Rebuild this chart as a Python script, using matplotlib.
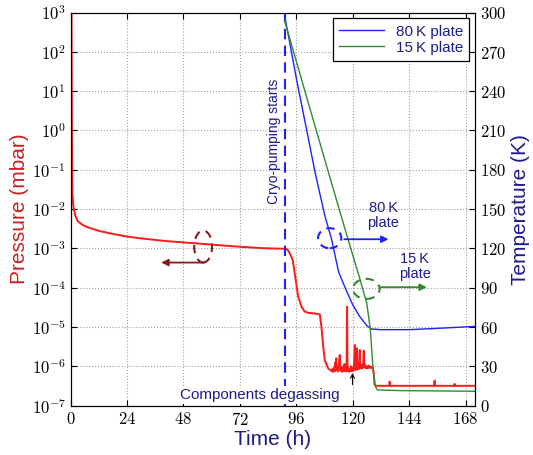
import math
import matplotlib
matplotlib.use('Agg')
import matplotlib.pyplot as plt
from matplotlib.patches import Ellipse
from matplotlib.ticker import FixedLocator, FuncFormatter, LogLocator

plt.rcParams['mathtext.fontset'] = 'cm'
plt.rcParams['font.family'] = ['Liberation Sans', 'DejaVu Sans']

# Chamber pressure (mbar) vs time (h)
t_pres = [0.4, 0.6, 0.7, 0.8, 1.2, 2.0, 3.0, 5.0, 7.0, 12, 17, 24, 30, 40, 48, 60, 72, 84,
          91.5, 92.5, 93.5, 94.5, 95.5, 96.8, 98.2, 99.5, 101, 104, 106, 106.7, 107.5,
          108.1, 109.5, 110.5,
          111.0, 111.3, 111.6, 111.9, 112.2, 112.5, 112.7, 113.0, 113.2, 113.5, 113.8,
          114.1, 114.5, 114.7, 115.0, 115.3, 115.6, 115.9, 116.2, 116.5, 116.8, 117.1,
          117.4, 117.6, 117.8, 118.1, 118.4, 118.7, 119.0, 119.3, 119.6, 119.9, 120.2,
          120.6, 120.9, 121.1, 121.5, 121.8, 122.0, 122.4, 122.7, 123.0, 123.2, 123.5,
          123.8, 124.1, 124.4, 124.7, 124.9, 125.2, 125.5, 125.9, 126.3, 126.7, 127.1,
          127.5, 127.9, 128.3, 128.6, 129.0, 129.3, 130.0,
          135.5, 135.7, 135.9, 154.6, 154.8, 155.0, 163.1, 163.3, 163.5, 172]
pressure = [1e3, 1e0, 1e-1, 2.5e-2, 1.2e-2, 7e-3, 5.0e-3, 4.0e-3, 3.5e-3, 2.8e-3, 2.4e-3,
            2.0e-3, 1.8e-3, 1.55e-3, 1.42e-3, 1.25e-3, 1.1e-3, 1.0e-3,
            9.8e-4, 9.0e-4, 7e-4, 5e-4, 2e-4, 6e-5, 3.3e-5, 2.5e-5, 2.3e-5, 2.2e-5, 2.1e-5,
            1.0e-5, 3e-6, 1.45e-6, 9e-7, 8e-7,
            7.6e-7, 8.4e-7, 7.2e-7, 9.0e-7, 7.5e-7, 1.25e-6, 7.8e-7, 1.6e-6, 8.0e-7, 9.5e-7,
            7.4e-7, 1.1e-6, 1.95e-6, 8.2e-7, 7.6e-7, 9.8e-7, 7.3e-7, 8.8e-7, 7.5e-7, 1.15e-6,
            7.8e-7, 8.6e-7, 7.4e-7, 3.3e-5, 7.6e-7, 9.2e-7, 7.3e-7, 8.5e-7, 7.6e-7, 1.0e-6,
            7.5e-7, 8.9e-7, 7.7e-7, 1.2e-6, 3.5e-6, 8.0e-7, 1.05e-6, 2.9e-6, 8.3e-7, 1.1e-6,
            8.6e-7, 2.6e-6, 9.0e-7, 1.05e-6, 8.8e-7, 1.1e-6, 9.3e-7, 2.5e-6, 9.5e-7, 1.1e-6,
            9.0e-7, 1.0e-6, 8.8e-7, 1.05e-6, 9.2e-7, 1.0e-6, 9.0e-7, 9.6e-7, 8.8e-7, 6.0e-7,
            3.4e-7, 3.2e-7,
            3.2e-7, 4.1e-7, 3.2e-7, 3.2e-7, 4.3e-7, 3.2e-7, 3.2e-7, 3.6e-7, 3.2e-7, 3.2e-7]

# Plate temperatures (K)
t_80k = [91, 91.5, 92.5, 96, 100, 104, 108, 111, 114, 117, 120, 123, 126, 128, 132, 144, 156, 172]
temp_80k = [300, 293, 284, 250, 214, 178, 146, 127, 102, 89, 77, 68, 61, 58.5, 58, 58, 59, 60.5]
t_15k = [91, 100, 110, 118, 123, 126, 127.5, 128.5, 129.5, 130.5, 140, 172]
temp_15k = [294, 238, 176, 127, 97, 78, 58, 32, 15, 12, 11.5, 11]

time_ticks = [0, 24, 48, 72, 96, 120, 144, 168]
temp_ticks = [0, 30, 60, 90, 120, 150, 180, 210, 240, 270, 300]
cryo_start = 91

navy = '#1c1c8c'
dark_red = '#8b1a1a'
red = '#ff1a1a'
blue = '#2020ff'
green = '#2e8b2e'

fig = plt.figure(figsize=(5.33, 4.55), dpi=100)
ax = fig.add_axes([0.1323, 0.1084, 0.7589, 0.8641])
ax2 = ax.twinx()

ax.plot(t_pres, pressure, color=red, lw=1.4)
ax.set_yscale('log')
ax.set_xlim(0, 172)
ax.set_ylim(1e-7, 1e3)
ax.axvline(cryo_start, color=blue, ls=(0, (5, 3)), lw=1.5)

ax.xaxis.set_major_locator(FixedLocator(time_ticks))
ax.xaxis.set_major_formatter(FuncFormatter(lambda v, p: r'$%d$' % v))
ax.yaxis.set_major_locator(LogLocator(base=10, numticks=20))
ax.yaxis.set_major_formatter(FuncFormatter(lambda v, p: r'$10^{%d}$' % round(math.log10(v))))
ax.tick_params(which='both', direction='in', top=True, labelsize=12)
ax.tick_params(which='major', length=4)
ax.tick_params(which='minor', length=2)
ax.grid(True, which='major', ls=':', color='#a0a0a0', lw=0.8)

ax.set_xlabel('Time (h)', color=navy, fontsize=15)
ax.xaxis.set_label_coords(0.5, -0.063)
ax.set_ylabel('Pressure (mbar)', color='#cc2020', fontsize=15)
ax.yaxis.set_label_coords(-0.102, 0.5)

ax2.plot(t_80k, temp_80k, color=blue, lw=1.0, label='80\u2009K plate')
ax2.plot(t_15k, temp_15k, color=green, lw=1.0, label='15\u2009K plate')
ax2.set_ylim(0, 300)
ax2.yaxis.set_major_locator(FixedLocator(temp_ticks))
ax2.yaxis.set_major_formatter(FuncFormatter(lambda v, p: r'$%d$' % v))
ax2.tick_params(direction='in', length=4, labelsize=12)
ax2.set_ylabel('Temperature (K)', color=navy, fontsize=15)
ax2.yaxis.set_label_coords(1.088, 0.5)

leg = ax2.legend(loc='upper right', bbox_to_anchor=(0.986, 0.985), borderaxespad=0,
                 fancybox=False, edgecolor='black', framealpha=1, fontsize=11,
                 handlelength=2.9, labelspacing=0.15, labelcolor=navy)
leg.get_frame().set_linewidth(0.9)

# Event labels
ax2.text(86.6, 202, 'Cryo-pumping starts', rotation=90, color=navy, fontsize=10,
         ha='center', va='center')
ax2.text(80.7, 8.2, 'Components degassing', color=navy, fontsize=11, ha='center',
         va='center', bbox=dict(facecolor='white', edgecolor='none', pad=1.5))
ax2.annotate('', xy=(119.9, 27), xytext=(119.9, 14),
             arrowprops=dict(arrowstyle='->', color='black', lw=0.8, mutation_scale=7))

# Curve markers: which axis each curve belongs to
ax2.add_patch(Ellipse((56.4, 121.4), 7.6, 24.4, fill=False, ec=dark_red, lw=1.5, ls=(0, (4, 3))))
ax2.annotate('', xy=(37.4, 109.2), xytext=(57.9, 109.2),
             arrowprops=dict(arrowstyle='-|>', color=dark_red, lw=1.3, mutation_scale=10))

ax2.add_patch(Ellipse((110.2, 127.8), 9.9, 15.3, fill=False, ec=blue, lw=1.5, ls=(0, (4, 3))))
ax2.annotate('', xy=(136.4, 127), xytext=(115.2, 127),
             arrowprops=dict(arrowstyle='-|>', color=blue, lw=1.3, mutation_scale=10))
ax2.text(132.9, 145, '80\u2009K\nplate', color=navy, fontsize=10.5, ha='center',
         va='center', linespacing=1.1)

ax2.add_patch(Ellipse((125.8, 89.1), 11.3, 15.3, fill=False, ec=green, lw=1.5, ls=(0, (4, 3))))
ax2.annotate('', xy=(152.7, 90.4), xytext=(130.8, 90.4),
             arrowprops=dict(arrowstyle='-|>', color=green, lw=1.3, mutation_scale=10))
ax2.text(146.3, 106, '15\u2009K\nplate', color=navy, fontsize=10.5, ha='center',
         va='center', linespacing=1.1)

plt.savefig('out.png', dpi=100)
plt.close()
